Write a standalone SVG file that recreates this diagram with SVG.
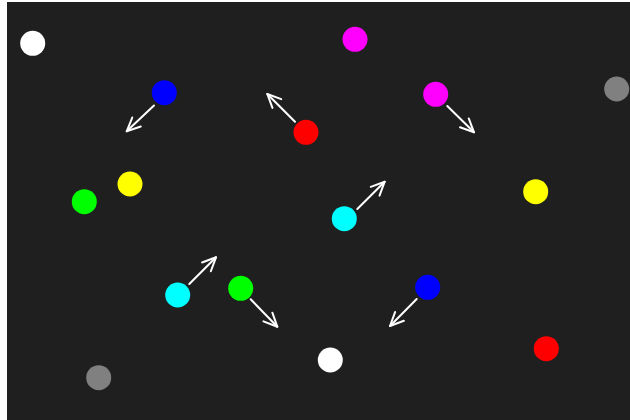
<svg xmlns="http://www.w3.org/2000/svg" width="630" height="420" viewBox="0 0 630 420">
  <style>
    .ball { stroke: none; }
    .arrow { fill: none; stroke: #ffffff; stroke-width: 2; stroke-linecap: round; marker-end: url(#head); }
  </style>
  <defs>
    <marker id="head" markerUnits="userSpaceOnUse" viewBox="-16 -10 20 20" refX="0" refY="0" markerWidth="20" markerHeight="20" orient="auto" overflow="visible">
      <path d="M-13.5,-6.2 L0,0 L-13.5,6.2" fill="none" stroke="#ffffff" stroke-width="2" stroke-linecap="round" stroke-linejoin="round"/>
    </marker>
  </defs>
  <rect x="0" y="0" width="630" height="420" fill="#ffffff"/>
  <rect x="7" y="2" width="623" height="418" fill="#1f1f1f"/>

  <g id="connectors">
    <path class="arrow" d="M154,105.5 L126.7,131.3"/>
    <path class="arrow" d="M295,121.7 L267.3,94"/>
    <path class="arrow" d="M447.3,106 L474,132.3"/>
    <path class="arrow" d="M357.3,209 L384.7,181.7"/>
    <path class="arrow" d="M189.3,284 L216,257.3"/>
    <path class="arrow" d="M250.7,299.3 L277.3,326.7"/>
    <path class="arrow" d="M416.7,299 L390,326"/>
  </g>

  <g id="white1"><circle class="ball" cx="32.7" cy="43.3" r="12.5" fill="#ffffff"/></g>
  <g id="magenta1"><circle class="ball" cx="355" cy="39.3" r="12.5" fill="#ff00ff"/></g>
  <g id="blue1"><circle class="ball" cx="164.3" cy="92.7" r="12.5" fill="#0000ff"/></g>
  <g id="red1"><circle class="ball" cx="306" cy="132.3" r="12.5" fill="#ff0000"/></g>
  <g id="magenta2"><circle class="ball" cx="435.7" cy="94.3" r="12.5" fill="#ff00ff"/></g>
  <g id="gray1"><circle class="ball" cx="616.7" cy="89" r="12.5" fill="#808080"/></g>
  <g id="yellow1"><circle class="ball" cx="130" cy="184" r="12.5" fill="#ffff00"/></g>
  <g id="green1"><circle class="ball" cx="84.3" cy="201.7" r="12.5" fill="#00ff00"/></g>
  <g id="cyan1"><circle class="ball" cx="344.3" cy="218.7" r="12.5" fill="#00ffff"/></g>
  <g id="yellow2"><circle class="ball" cx="535.7" cy="191.7" r="12.5" fill="#ffff00"/></g>
  <g id="cyan2"><circle class="ball" cx="177.7" cy="295" r="12.5" fill="#00ffff"/></g>
  <g id="green2"><circle class="ball" cx="240.7" cy="288.3" r="12.5" fill="#00ff00"/></g>
  <g id="blue2"><circle class="ball" cx="427.7" cy="287.3" r="12.5" fill="#0000ff"/></g>
  <g id="white2"><circle class="ball" cx="330.3" cy="360" r="12.5" fill="#ffffff"/></g>
  <g id="red2"><circle class="ball" cx="546.3" cy="348.7" r="12.5" fill="#ff0000"/></g>
  <g id="gray2"><circle class="ball" cx="98.7" cy="377.7" r="12.5" fill="#808080"/></g>
</svg>
